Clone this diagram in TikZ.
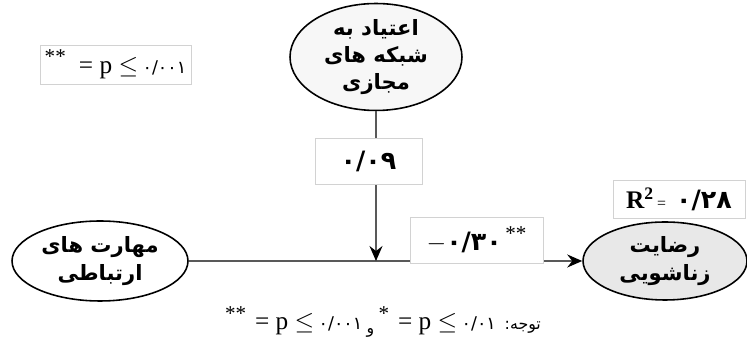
\documentclass[tikz,border=0pt]{standalone}
\usepackage{fontspec}
\setmainfont{Liberation Serif}
\newfontfamily\arabicfont[Script=Arabic]{DejaVu Sans}
\TeXXeTstate=1
\usetikzlibrary{positioning, arrows.meta, shapes.geometric}
\newcommand{\fa}[1]{{\arabicfont\beginR #1\endR}}

\begin{document}
\begin{tikzpicture}[x=0.02cm, y=-0.02cm, every node/.style={font=\normalsize}]
  \tikzset{
    latent/.style={ellipse, draw=black, line width=0.9pt, inner sep=0pt, align=center,
      font=\arabicfont\bfseries\fontsize{12}{15.5}\selectfont},
    coefbox/.style={draw=gray!35, fill=white, inner sep=0pt, align=center},
    path/.style={draw=black!65, line width=0.8pt, -{Stealth[length=3mm, width=2.6mm, inset=1mm, color=black]}},
  }
  \useasboundingbox (0,0) rectangle (747,350);

  %% ===== Variables =====
  \node[latent, fill=gray!6, minimum width=3.44cm, minimum height=2.0cm] (addict) at (376,57)
    {\fa{اعتیاد به}\\\fa{شبکه های}\\\fa{مجازی}};
  \node[latent, fill=white, minimum width=3.52cm, minimum height=1.6cm] (skills) at (100,261)
    {\fa{مهارت های}\\\fa{ارتباطی}};
  \node[latent, fill=gray!18, minimum width=3.28cm, minimum height=1.56cm] (satisf) at (665,261)
    {\fa{رضایت}\\\fa{زناشویی}};
  \coordinate (mod) at (376,261);

  %% ===== Paths =====
  \draw[path] (skills) -- (satisf);
  \draw[path] (addict) -- (mod);

  %% ===== Coefficients =====
  \node[coefbox, minimum width=2.14cm, minimum height=0.92cm] (cmod) at (368.5,161)
    {\arabicfont\bfseries\Large ۰/۰۹};
  \node[coefbox, minimum width=2.66cm, minimum height=0.92cm] (cdir) at (476.5,240)
    {{\Large$-$}{\arabicfont\bfseries\Large ۰/۳۰}\raisebox{1.3ex}{\large\,**}};
  \node[coefbox, minimum width=2.64cm, minimum height=0.76cm] (rsq) at (679,199)
    {{\Large\textbf{R\textsuperscript{2}}}\,{\small =}\,\, {\arabicfont\bfseries\Large ۰/۲۸}};
  \node[coefbox, minimum width=3.02cm, minimum height=0.78cm] (sig) at (115.5,64.5)
    {\raisebox{1.3ex}{\large **}\ \ \ {\Large = p $\leq$} {\arabicfont\normalsize ۰/۰۰۱}};

  %% ===== Note =====
  \node (note) at (383,322)
    {\raisebox{1.1ex}{\large **}\ \ {\Large = p $\leq$} {\arabicfont\normalsize ۰/۰۰۱}
     {\arabicfont\small\raisebox{-0.5ex}{\fa{و}}}\ \raisebox{1.1ex}{\large *}\ \ {\Large = p $\leq$}
     {\arabicfont\normalsize ۰/۰۱}\ \ {\small\fa{توجه:}}};
\end{tikzpicture}
\end{document}
